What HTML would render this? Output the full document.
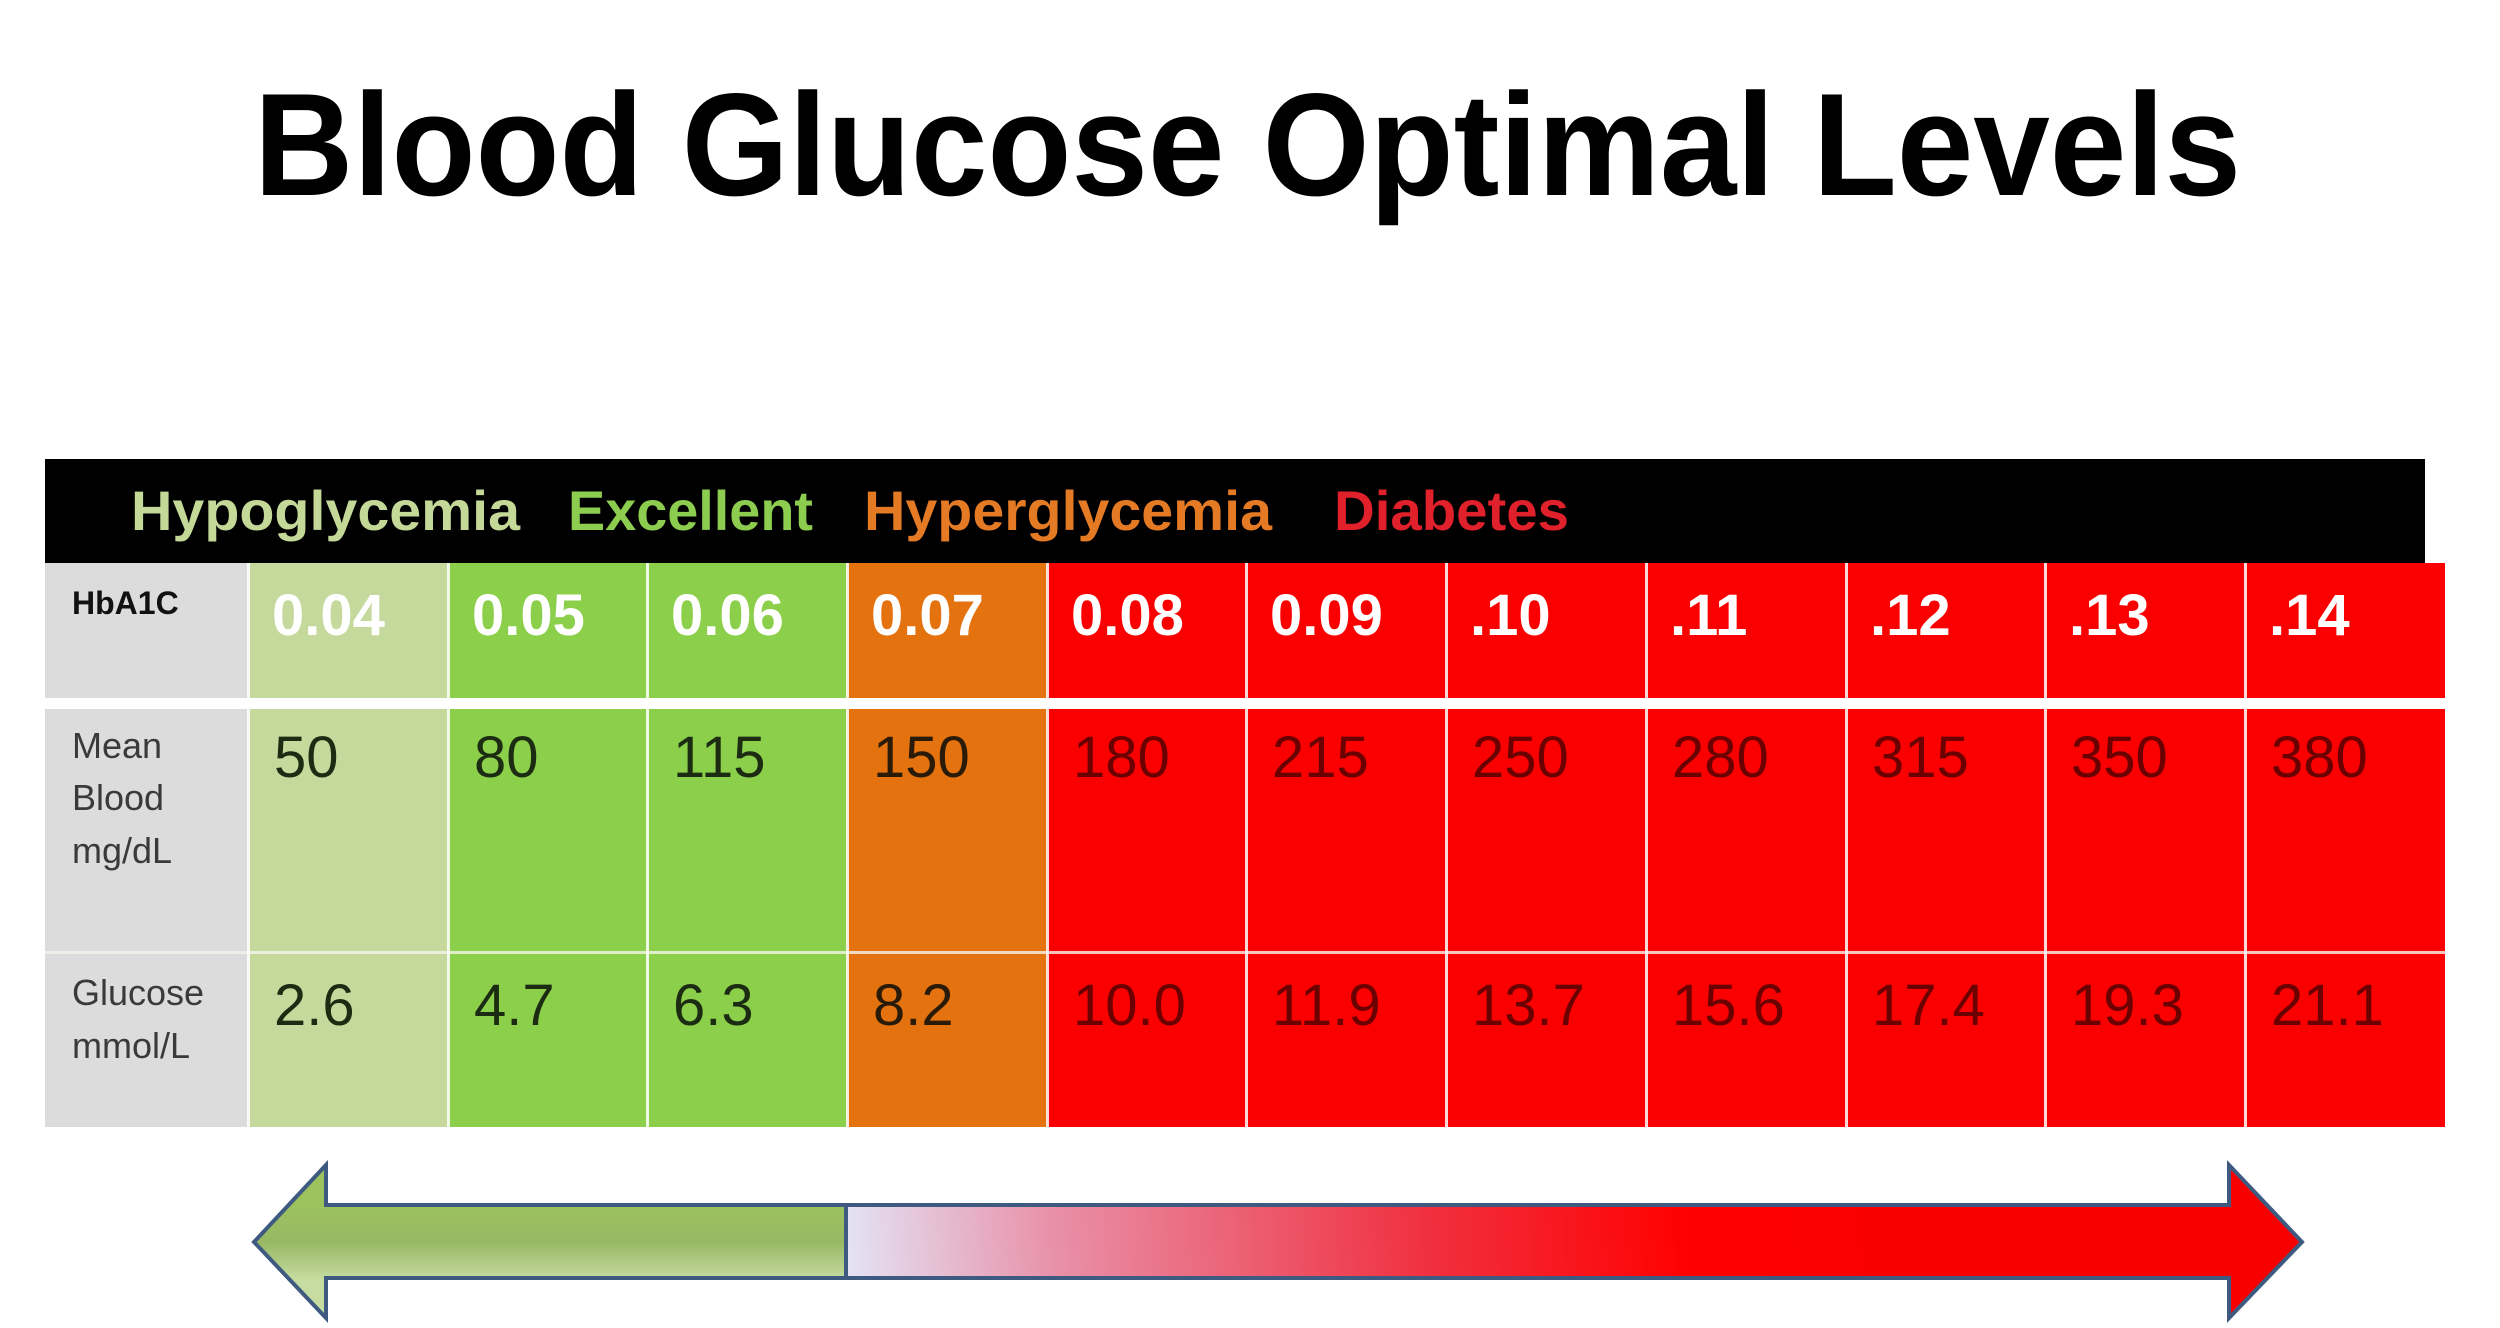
<!DOCTYPE html>
<html><head><meta charset="utf-8"><style>html,body{margin:0;padding:0;background:#fff}svg{display:block}</style></head>
<body>
<svg width="2500" height="1328" viewBox="0 0 2500 1328" xmlns="http://www.w3.org/2000/svg">
<defs>
<linearGradient id="rg" x1="846" y1="1280" x2="1900" y2="1205" gradientUnits="userSpaceOnUse">
<stop offset="0" stop-color="#e4e4f6"/><stop offset="0.2" stop-color="#e890a8"/><stop offset="0.55" stop-color="#f03040"/><stop offset="0.8" stop-color="#ff0000"/><stop offset="1" stop-color="#f80000"/>
</linearGradient>
<linearGradient id="gg" x1="0" y1="1205" x2="0" y2="1280" gradientUnits="userSpaceOnUse">
<stop offset="0" stop-color="#9cc25e"/><stop offset="0.5" stop-color="#98b865"/><stop offset="1" stop-color="#c6dca0"/>
</linearGradient>
</defs>
<text x="254" y="195" font-family="Liberation Sans, sans-serif" font-weight="bold" font-size="146" textLength="1987" lengthAdjust="spacingAndGlyphs" fill="#000">Blood Glucose Optimal Levels</text>

<rect x="45" y="459" width="2380" height="104" fill="#000"/>
<g font-family="Liberation Sans, sans-serif" font-weight="bold" font-size="56">
<text x="131" y="530" fill="#c4d898" textLength="389" lengthAdjust="spacingAndGlyphs">Hypoglycemia</text>
<text x="568" y="530" fill="#8ccc4e" textLength="245" lengthAdjust="spacingAndGlyphs">Excellent</text>
<text x="864" y="530" fill="#e47a24" textLength="408" lengthAdjust="spacingAndGlyphs">Hyperglycemia</text>
<text x="1334" y="530" fill="#e0202a" textLength="235" lengthAdjust="spacingAndGlyphs">Diabetes</text>
</g>

<rect x="45" y="563" width="203" height="564" fill="#dcdcdc"/>
<rect x="248" y="563" width="200" height="564" fill="#c5d99c"/>
<rect x="448" y="563" width="399" height="564" fill="#8ccf4a"/>
<rect x="847" y="563" width="200" height="564" fill="#e4720f"/>
<rect x="1047" y="563" width="1398" height="564" fill="#fb0000"/>
<rect x="45" y="698" width="2400" height="11" fill="#fff"/>
<rect x="45" y="951" width="2400" height="3" fill="#f4f4ee" opacity="0.8"/>
<g fill="#fff" opacity="0.85">
<rect x="247" y="563" width="3" height="564"/><rect x="447" y="563" width="3" height="564"/><rect x="646" y="563" width="3" height="564"/><rect x="846" y="563" width="3" height="564"/><rect x="1046" y="563" width="3" height="564"/><rect x="1245" y="563" width="3" height="564"/><rect x="1445" y="563" width="3" height="564"/><rect x="1645" y="563" width="3" height="564"/><rect x="1845" y="563" width="3" height="564"/><rect x="2044" y="563" width="3" height="564"/><rect x="2244" y="563" width="3" height="564"/>
</g>

<g font-family="Liberation Sans, sans-serif" fill="#222">
<text x="72" y="614" font-weight="bold" font-size="32" fill="#111">HbA1C</text>
<g font-size="36" fill="#3a3a3a">
<text x="72" y="758">Mean</text><text x="72" y="810">Blood</text><text x="72" y="863">mg/dL</text>
<text x="72" y="1005">Glucose</text><text x="72" y="1058">mmol/L</text>
</g>
</g>

<g font-family="Liberation Sans, sans-serif" font-weight="bold" font-size="58" fill="#fff">
<text x="272" y="635">0.04</text><text x="472" y="635">0.05</text><text x="671" y="635">0.06</text><text x="871" y="635">0.07</text><text x="1071" y="635">0.08</text><text x="1270" y="635">0.09</text><text x="1470" y="635">.10</text><text x="1670" y="635">.11</text><text x="1870" y="635">.12</text><text x="2069" y="635">.13</text><text x="2269" y="635">.14</text>
</g>
<g font-family="Liberation Sans, sans-serif" font-size="58">
<g fill="#1c2c12"><text x="274" y="777">50</text><text x="474" y="777">80</text><text x="673" y="777">115</text><text x="873" y="777" fill="#2a1a08">150</text></g>
<g fill="#6a0000"><text x="1073" y="777">180</text><text x="1272" y="777">215</text><text x="1472" y="777">250</text><text x="1672" y="777">280</text><text x="1872" y="777">315</text><text x="2071" y="777">350</text><text x="2271" y="777">380</text></g>
<g fill="#1c2c12"><text x="274" y="1025">2.6</text><text x="474" y="1025">4.7</text><text x="673" y="1025">6.3</text><text x="873" y="1025" fill="#2a1a08">8.2</text></g>
<g fill="#6a0000"><text x="1073" y="1025">10.0</text><text x="1272" y="1025">11.9</text><text x="1472" y="1025">13.7</text><text x="1672" y="1025">15.6</text><text x="1872" y="1025">17.4</text><text x="2071" y="1025">19.3</text><text x="2271" y="1025">21.1</text></g>
</g>

<path d="M846 1205 L2229 1205 L2229 1165 L2302 1242 L2229 1318 L2229 1278 L846 1278 Z" fill="url(#rg)"/>
<path d="M846 1205 L326 1205 L326 1165 L254 1242 L326 1318 L326 1278 L846 1278 Z" fill="url(#gg)"/>
<path d="M326 1205 L2229 1205 L2229 1165 L2302 1242 L2229 1318 L2229 1278 L326 1278 L326 1318 L254 1242 L326 1165 Z" fill="none" stroke="#3f5a80" stroke-width="4"/>
<line x1="846" y1="1205" x2="846" y2="1278" stroke="#3f5a80" stroke-width="4"/>
</svg>
</body></html>
